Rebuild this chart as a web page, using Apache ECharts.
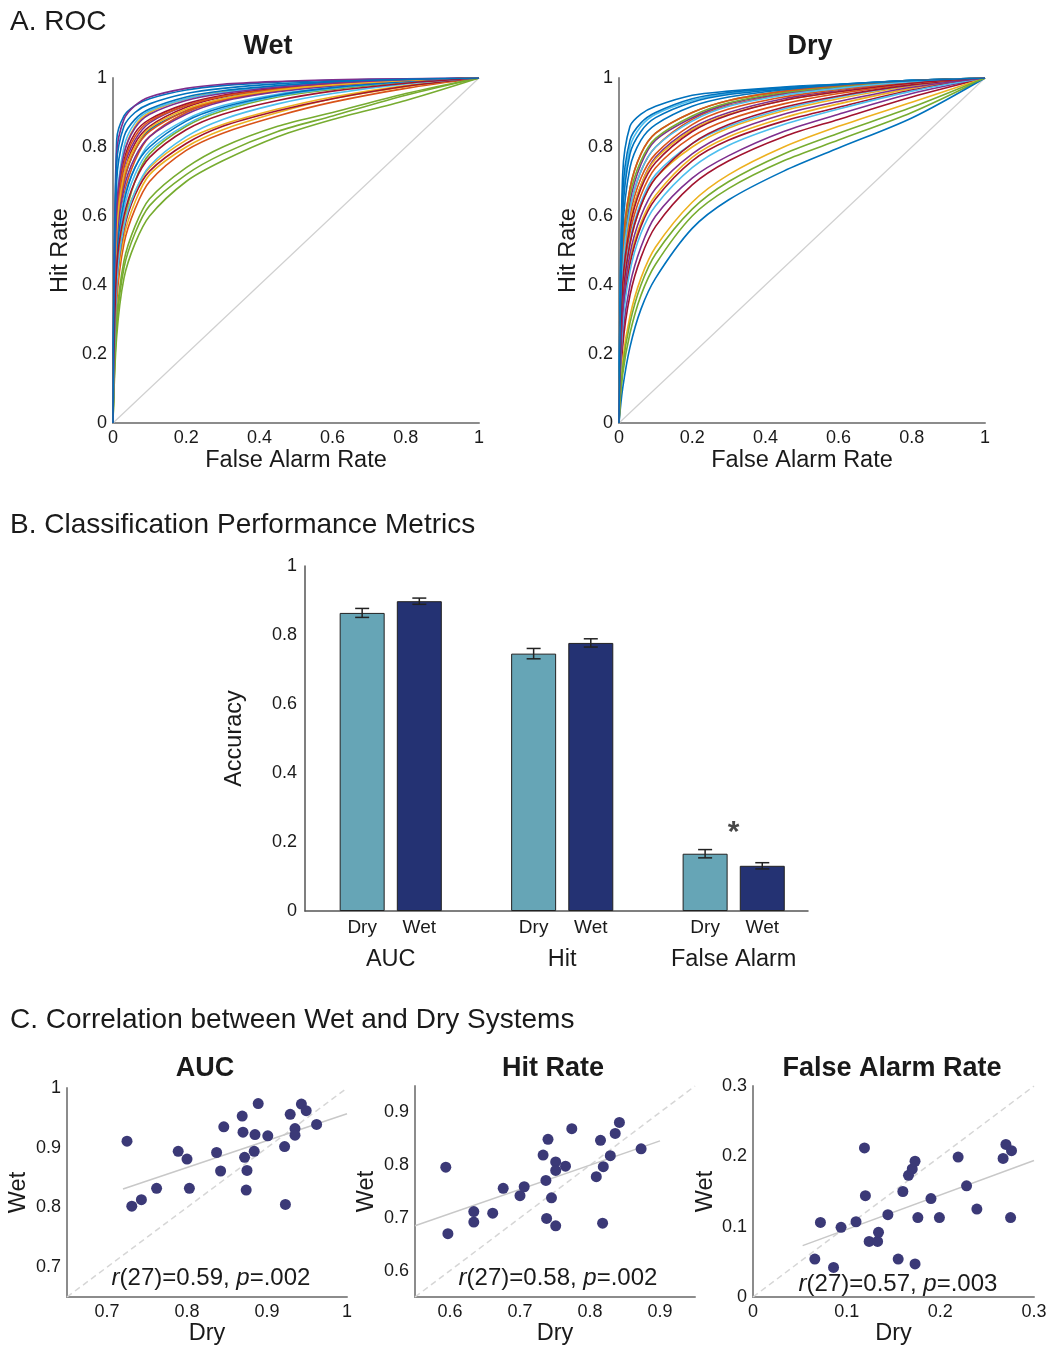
<!DOCTYPE html>
<html>
<head>
<meta charset="utf-8">
<script src="https://cdn.jsdelivr.net/npm/echarts@6/dist/echarts.min.js"></script>
<style>
  html, body { margin: 0; padding: 0; background: #fff; }
  #fig { width: 1056px; height: 1351px; }
</style>
</head>
<body>
<div id="fig"></div>
<script>
// ROC curves: hit rate read at these false alarm rates
const faPoints = [0, 0.01, 0.03, 0.06, 0.1, 0.2, 0.3, 0.45, 0.6, 0.8, 1];

const wetHits = [
    [0.82, 0.89, 0.92, 0.94, 0.965, 0.978, 0.988, 0.993, 0.997],
    [0.50, 0.66, 0.76, 0.83, 0.90, 0.935, 0.962, 0.978, 0.992],
    [0.60, 0.78, 0.86, 0.90, 0.94, 0.96, 0.975, 0.985, 0.994],
    [0.78, 0.88, 0.92, 0.945, 0.97, 0.982, 0.99, 0.995, 0.998],
    [0.40, 0.58, 0.70, 0.78, 0.86, 0.905, 0.945, 0.967, 0.987],
    [0.62, 0.80, 0.87, 0.905, 0.94, 0.958, 0.975, 0.986, 0.995],
    [0.55, 0.72, 0.81, 0.86, 0.915, 0.945, 0.968, 0.982, 0.993],
    [0.70, 0.83, 0.88, 0.91, 0.945, 0.963, 0.978, 0.988, 0.995],
    [0.35, 0.52, 0.62, 0.70, 0.79, 0.84, 0.89, 0.93, 0.97],
    [0.42, 0.58, 0.67, 0.74, 0.82, 0.865, 0.91, 0.945, 0.978],
    [0.58, 0.74, 0.82, 0.87, 0.92, 0.948, 0.97, 0.983, 0.994],
    [0.25, 0.42, 0.52, 0.60, 0.70, 0.76, 0.83, 0.88, 0.935],
    [0.50, 0.65, 0.74, 0.81, 0.88, 0.92, 0.953, 0.972, 0.99],
    [0.60, 0.76, 0.84, 0.88, 0.925, 0.95, 0.97, 0.983, 0.994],
    [0.55, 0.70, 0.79, 0.85, 0.905, 0.94, 0.965, 0.98, 0.993],
    [0.52, 0.70, 0.79, 0.845, 0.905, 0.938, 0.964, 0.979, 0.992],
    [0.38, 0.54, 0.64, 0.72, 0.80, 0.85, 0.90, 0.94, 0.975],
    [0.52, 0.68, 0.77, 0.83, 0.895, 0.932, 0.96, 0.977, 0.992],
    [0.28, 0.45, 0.55, 0.63, 0.72, 0.78, 0.845, 0.89, 0.95],
    [0.45, 0.62, 0.72, 0.79, 0.865, 0.91, 0.948, 0.97, 0.989],
    [0.40, 0.56, 0.66, 0.73, 0.81, 0.86, 0.905, 0.94, 0.976],
    [0.48, 0.64, 0.74, 0.80, 0.875, 0.915, 0.95, 0.972, 0.99],
    [0.58, 0.75, 0.83, 0.875, 0.92, 0.947, 0.968, 0.981, 0.993],
    [0.55, 0.72, 0.80, 0.855, 0.91, 0.94, 0.965, 0.98, 0.993],
    [0.62, 0.78, 0.855, 0.895, 0.935, 0.955, 0.973, 0.985, 0.995],
    [0.30, 0.47, 0.57, 0.65, 0.74, 0.80, 0.86, 0.90, 0.955],
    [0.40, 0.57, 0.67, 0.745, 0.83, 0.88, 0.925, 0.955, 0.983],
    [0.45, 0.60, 0.70, 0.77, 0.85, 0.895, 0.935, 0.962, 0.985],
    [0.75, 0.86, 0.90, 0.925, 0.955, 0.97, 0.983, 0.99, 0.996]
];

const dryHits = [
    [0.72, 0.86, 0.895, 0.918, 0.95, 0.962, 0.974, 0.982, 0.993],
    [0.45, 0.62, 0.73, 0.80, 0.88, 0.92, 0.953, 0.972, 0.99],
    [0.30, 0.47, 0.58, 0.66, 0.77, 0.83, 0.885, 0.925, 0.97],
    [0.40, 0.58, 0.69, 0.77, 0.855, 0.90, 0.94, 0.963, 0.986],
    [0.50, 0.68, 0.78, 0.84, 0.90, 0.935, 0.962, 0.978, 0.992],
    [0.62, 0.80, 0.86, 0.895, 0.935, 0.955, 0.97, 0.981, 0.993],
    [0.30, 0.46, 0.57, 0.65, 0.76, 0.82, 0.875, 0.915, 0.965],
    [0.60, 0.78, 0.845, 0.885, 0.93, 0.952, 0.968, 0.98, 0.993],
    [0.38, 0.55, 0.66, 0.74, 0.83, 0.88, 0.925, 0.955, 0.983],
    [0.35, 0.52, 0.63, 0.71, 0.80, 0.855, 0.905, 0.94, 0.977],
    [0.25, 0.40, 0.51, 0.60, 0.71, 0.775, 0.845, 0.895, 0.955],
    [0.14, 0.26, 0.37, 0.46, 0.60, 0.68, 0.76, 0.82, 0.90],
    [0.36, 0.53, 0.64, 0.72, 0.81, 0.86, 0.91, 0.945, 0.98],
    [0.22, 0.37, 0.48, 0.57, 0.69, 0.76, 0.83, 0.88, 0.945],
    [0.10, 0.22, 0.33, 0.42, 0.564, 0.647, 0.73, 0.797, 0.884],
    [0.42, 0.60, 0.71, 0.78, 0.865, 0.91, 0.945, 0.967, 0.988],
    [0.18, 0.31, 0.42, 0.51, 0.64, 0.72, 0.80, 0.86, 0.93],
    [0.45, 0.64, 0.75, 0.82, 0.885, 0.925, 0.955, 0.973, 0.99],
    [0.48, 0.66, 0.76, 0.825, 0.89, 0.928, 0.958, 0.975, 0.991],
    [0.28, 0.44, 0.55, 0.63, 0.74, 0.805, 0.865, 0.91, 0.962],
    [0.35, 0.52, 0.63, 0.71, 0.81, 0.865, 0.915, 0.948, 0.98],
    [0.66, 0.82, 0.87, 0.90, 0.94, 0.958, 0.972, 0.982, 0.993],
    [0.50, 0.68, 0.78, 0.84, 0.90, 0.935, 0.962, 0.978, 0.992],
    [0.40, 0.58, 0.69, 0.765, 0.85, 0.895, 0.935, 0.96, 0.985],
    [0.32, 0.49, 0.60, 0.68, 0.78, 0.84, 0.895, 0.932, 0.973],
    [0.16, 0.29, 0.40, 0.49, 0.62, 0.70, 0.78, 0.84, 0.915],
    [0.44, 0.62, 0.73, 0.80, 0.875, 0.918, 0.95, 0.97, 0.989],
    [0.40, 0.57, 0.68, 0.755, 0.845, 0.893, 0.935, 0.96, 0.985],
    [0.55, 0.74, 0.82, 0.865, 0.918, 0.945, 0.966, 0.98, 0.992]
];

// B. performance metrics
const metricNames = ["AUC", "Hit", "False Alarm"];
const dryMeans = [0.864, 0.746, 0.166];
const wetMeans = [0.898, 0.777, 0.131];
const dryErr = [0.013, 0.015, 0.012];
const wetErr = [0.009, 0.012, 0.009];

// C. correlations, [dry, wet] per subject
const aucPoints = [
    [0.725, 0.911], [0.731, 0.802], [0.743, 0.813], [0.762, 0.832], [0.789, 0.894],
    [0.800, 0.881], [0.803, 0.832], [0.837, 0.892], [0.842, 0.861], [0.846, 0.935],
    [0.869, 0.953], [0.870, 0.926], [0.872, 0.884], [0.875, 0.862], [0.874, 0.829],
    [0.884, 0.894], [0.885, 0.922], [0.889, 0.974], [0.901, 0.920], [0.922, 0.902],
    [0.923, 0.805], [0.929, 0.956], [0.935, 0.932], [0.935, 0.921], [0.943, 0.973],
    [0.949, 0.962], [0.962, 0.939]
];
const hitPoints = [
    [0.594, 0.796], [0.597, 0.670], [0.634, 0.712], [0.634, 0.692], [0.661, 0.709],
    [0.676, 0.756], [0.700, 0.742], [0.706, 0.759], [0.733, 0.819], [0.737, 0.771],
    [0.738, 0.699], [0.740, 0.849], [0.745, 0.738], [0.751, 0.806], [0.751, 0.790],
    [0.751, 0.685], [0.765, 0.798], [0.774, 0.869], [0.809, 0.778], [0.815, 0.847],
    [0.818, 0.690], [0.819, 0.797], [0.829, 0.818], [0.836, 0.860], [0.842, 0.881],
    [0.873, 0.831]
];
const faPointsScatter = [
    [0.066, 0.054], [0.072, 0.106], [0.086, 0.042], [0.094, 0.099], [0.110, 0.107],
    [0.119, 0.212], [0.120, 0.144], [0.124, 0.079], [0.133, 0.079], [0.134, 0.092],
    [0.144, 0.117], [0.155, 0.054], [0.160, 0.150], [0.166, 0.173], [0.170, 0.182],
    [0.173, 0.193], [0.173, 0.047], [0.176, 0.113], [0.190, 0.140], [0.199, 0.113],
    [0.219, 0.199], [0.228, 0.158], [0.239, 0.125], [0.267, 0.197], [0.270, 0.217],
    [0.276, 0.208], [0.275, 0.113]
];
const aucFit = [[0.72, 0.831], [1.0, 0.957]];
const hitFit = [[0.55, 0.685], [0.90, 0.846]];
const faFit = [[0.053, 0.073], [0.30, 0.194]];
const corrLabels = [
    "{i|r}(27)=0.59, {i|p}=.002",
    "{i|r}(27)=0.58, {i|p}=.002",
    "{i|r}(27)=0.57, {i|p}=.003"
];

const matlabColors = ["#0072BD", "#D95319", "#EDB120", "#7E2F8E", "#77AC30", "#4DBEEE", "#A2142F"];
const FONT = "Liberation Sans, Arial, Helvetica, sans-serif";
const TXT = "#1a1a1a";
const AXIS = "#8c8c8c";
const DOT = "#3b3977";

const fmtTenth = v => {
    const r = Math.round(v * 10);
    if (Math.abs(v * 10 - r) > 1e-6) return "";
    if (r === 0) return "0";
    if (r === 10) return "1";
    return (r / 10).toFixed(1);
};

const baseAxis = (grid, extra) => Object.assign({
    type: "value",
    gridIndex: grid,
    splitLine: { show: false },
    axisTick: { show: false },
    axisLine: { lineStyle: { color: AXIS, width: 2 } },
    axisLabel: { color: TXT, fontSize: 18, fontFamily: FONT, margin: 6, formatter: fmtTenth },
    nameTextStyle: { color: TXT, fontSize: 23.5, fontFamily: FONT },
    nameLocation: "middle"
}, extra);

const rocSeries = (hits, axisIdx) => hits.map((h, k) => ({
    type: "line",
    xAxisIndex: axisIdx,
    yAxisIndex: axisIdx,
    data: faPoints.map((f, i) => [f, [0, ...h, 1][i]]),
    smooth: 0.3,
    showSymbol: false,
    silent: true,
    lineStyle: { color: matlabColors[k % 7], width: 1.6 }
}));

const refLine = (axisIdx, pts, color, type, width) => ({
    type: "line",
    xAxisIndex: axisIdx,
    yAxisIndex: axisIdx,
    data: pts,
    showSymbol: false,
    silent: true,
    z: 1,
    lineStyle: { color: color, type: type, width: width }
});

const scatter = (axisIdx, pts) => ({
    type: "scatter",
    xAxisIndex: axisIdx,
    yAxisIndex: axisIdx,
    data: pts,
    symbolSize: 11,
    z: 5,
    itemStyle: { color: DOT, opacity: 1 }
});

const errSeries = (means, errs, offset) => ({
    type: "custom",
    xAxisIndex: 2,
    yAxisIndex: 2,
    z: 10,
    data: means.map((m, i) => [i * 3 + offset, m - errs[i], m + errs[i]]),
    renderItem: (params, api) => {
        const lo = api.coord([api.value(0), api.value(1)]);
        const hi = api.coord([api.value(0), api.value(2)]);
        const w = 7;
        const st = { stroke: "#222", lineWidth: 1.5 };
        return {
            type: "group",
            children: [
                { type: "line", shape: { x1: lo[0], y1: lo[1], x2: hi[0], y2: hi[1] }, style: st },
                { type: "line", shape: { x1: lo[0] - w, y1: lo[1], x2: lo[0] + w, y2: lo[1] }, style: st },
                { type: "line", shape: { x1: hi[0] - w, y1: hi[1], x2: hi[0] + w, y2: hi[1] }, style: st }
            ]
        };
    }
});

const titleText = (text, left, top, size, weight, align) => ({
    text: text,
    left: left,
    top: top,
    padding: 0,
    textAlign: align || "center",
    textStyle: { color: TXT, fontSize: size, fontWeight: weight, fontFamily: FONT }
});

const corrTitle = (text, left, top) => ({
    text: text,
    left: left,
    top: top,
    padding: 0,
    textAlign: "center",
    textStyle: {
        color: TXT, fontSize: 24, fontWeight: "normal", fontFamily: FONT,
        rich: { i: { fontStyle: "italic", fontSize: 24, color: TXT, fontFamily: FONT } }
    }
});

const barFormatter = v => {
    const r = Math.round(v);
    if (Math.abs(v - r) > 1e-6) return "";
    if (r % 3 === 1) return "Dry";
    if (r % 3 === 2) return "Wet";
    return "";
};

const groupFormatter = v => {
    const k = Math.round((v - 1.5) / 3);
    if (Math.abs(v - (k * 3 + 1.5)) > 1e-6 || k < 0 || k >= metricNames.length) return "";
    return metricNames[k];
};

const chart = echarts.init(document.getElementById("fig"), null, { renderer: "canvas" });

const option = {
    animation: false,
    backgroundColor: "#fff",
    title: [
        titleText("A. ROC", 10, 8, 28, "normal", "left"),
        titleText("Wet", 268, 33, 27, "bold"),
        titleText("Dry", 810, 33, 27, "bold"),
        titleText("B. Classification Performance Metrics", 10, 511, 28, "normal", "left"),
        titleText("C. Correlation between Wet and Dry Systems", 10, 1006, 28, "normal", "left"),
        titleText("AUC", 205, 1055, 27, "bold"),
        titleText("Hit Rate", 553, 1055, 27, "bold"),
        titleText("False Alarm Rate", 892, 1055, 27, "bold"),
        corrTitle(corrLabels[0], 211, 1266),
        corrTitle(corrLabels[1], 558, 1266),
        corrTitle(corrLabels[2], 898, 1272)
    ],
    grid: [
        { left: 113, top: 78, width: 366, height: 345 },
        { left: 619, top: 78, width: 366, height: 345 },
        { left: 305, top: 566, width: 503, height: 345 },
        { left: 67, top: 1088, width: 280, height: 209 },
        { left: 415, top: 1086, width: 280, height: 211 },
        { left: 753, top: 1086, width: 281, height: 211 }
    ],
    xAxis: [
        baseAxis(0, { min: 0, max: 1, interval: 0.2, name: "False Alarm Rate", nameGap: 26 }),
        baseAxis(1, { min: 0, max: 1, interval: 0.2, name: "False Alarm Rate", nameGap: 26 }),
        baseAxis(2, {
            min: 0, max: 8.8, interval: 1, position: "bottom",
            axisLine: { lineStyle: { color: "#555", width: 1.5 } },
            axisLabel: { color: TXT, fontSize: 19, fontFamily: FONT, margin: 7, formatter: barFormatter }
        }),
        baseAxis(3, { min: 0.65, max: 1, interval: 0.05, name: "Dry", nameGap: 25 }),
        baseAxis(4, { min: 0.55, max: 0.95, interval: 0.05, name: "Dry", nameGap: 25 }),
        baseAxis(5, { min: 0, max: 0.3, interval: 0.1, name: "Dry", nameGap: 25 }),
        baseAxis(2, {
            min: 0, max: 8.8, interval: 1.5, position: "bottom", offset: 0,
            axisLine: { show: false },
            axisLabel: { color: TXT, fontSize: 23.5, fontFamily: FONT, margin: 37, formatter: groupFormatter }
        })
    ],
    yAxis: [
        baseAxis(0, { min: 0, max: 1, interval: 0.2, name: "Hit Rate", nameGap: 40 }),
        baseAxis(1, { min: 0, max: 1, interval: 0.2, name: "Hit Rate", nameGap: 38 }),
        baseAxis(2, {
            min: 0, max: 1, interval: 0.2, name: "Accuracy", nameGap: 58,
            axisLine: { lineStyle: { color: "#555", width: 1.5 } },
            axisLabel: { color: TXT, fontSize: 18, fontFamily: FONT, margin: 8, formatter: fmtTenth }
        }),
        baseAxis(3, { min: 0.65, max: 1, interval: 0.05, name: "Wet", nameGap: 36 }),
        baseAxis(4, { min: 0.55, max: 0.95, interval: 0.05, name: "Wet", nameGap: 36 }),
        baseAxis(5, { min: 0, max: 0.3, interval: 0.1, name: "Wet", nameGap: 35 })
    ],
    series: [
        refLine(0, [[0, 0], [1, 1]], "#d0d0d0", "solid", 1.2),
        refLine(1, [[0, 0], [1, 1]], "#d0d0d0", "solid", 1.2),
        ...rocSeries(wetHits, 0),
        ...rocSeries(dryHits, 1),
        {
            name: "Dry",
            type: "bar",
            xAxisIndex: 2,
            yAxisIndex: 2,
            barWidth: 45,
            barGap: "-100%",
            data: dryMeans.map((m, i) => [i * 3 + 1, m]),
            itemStyle: { color: "#66a5b6", borderColor: "#222", borderWidth: 1 }
        },
        {
            name: "Wet",
            type: "bar",
            xAxisIndex: 2,
            yAxisIndex: 2,
            barWidth: 45,
            barGap: "-100%",
            data: wetMeans.map((m, i) => [i * 3 + 2, m]),
            itemStyle: { color: "#243273", borderColor: "#222", borderWidth: 1 }
        },
        errSeries(dryMeans, dryErr, 1),
        errSeries(wetMeans, wetErr, 2),
        {
            type: "scatter",
            xAxisIndex: 2,
            yAxisIndex: 2,
            data: [[7.5, 0.226]],
            symbolSize: 0,
            silent: true,
            label: { show: true, position: "inside", formatter: "*", fontSize: 30, fontWeight: "bold", color: TXT, fontFamily: FONT }
        },
        refLine(3, [[0.65, 0.65], [1, 1]], "#d6d6d6", [6, 4], 1.5),
        refLine(4, [[0.55, 0.55], [0.95, 0.95]], "#d6d6d6", [6, 4], 1.5),
        refLine(5, [[0, 0], [0.3, 0.3]], "#d6d6d6", [6, 4], 1.5),
        refLine(3, aucFit, "#c8c8c8", "solid", 1.5),
        refLine(4, hitFit, "#c8c8c8", "solid", 1.5),
        refLine(5, faFit, "#c8c8c8", "solid", 1.5),
        scatter(3, aucPoints),
        scatter(4, hitPoints),
        scatter(5, faPointsScatter)
    ]
};

chart.setOption(option);
</script>
</body>
</html>
